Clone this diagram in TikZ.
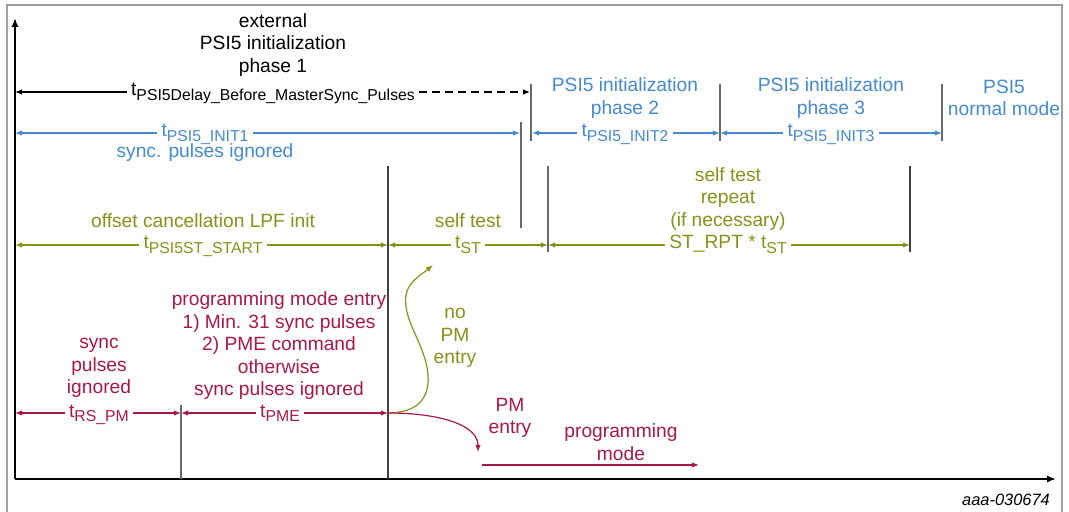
\documentclass[tikz,border=0pt]{standalone}
\usepackage{fontspec}
\setmainfont{Liberation Sans}
\usetikzlibrary{arrows.meta,positioning}
\definecolor{psiblue}{RGB}{68,138,208}
\definecolor{stolive}{RGB}{134,146,26}
\definecolor{pmred}{RGB}{168,24,72}
\definecolor{tickgray}{RGB}{105,105,105}
\newcommand{\tsub}[1]{t\raisebox{-2.3pt}{\fontsize{7.9}{7.9}\selectfont #1}}

\begin{document}
\begin{tikzpicture}[x=0.5pt,y=-0.5pt,>={Latex[length=3.6pt,width=2.8pt]},
  every node/.style={font=\fontsize{9.6}{11.25}\selectfont,align=center,inner sep=2pt},
  lbl/.style={anchor=base},
  dim/.style={line width=0.6pt},
  tickline/.style={line width=0.7pt,draw=tickgray},
  axis/.style={line width=0.9pt,-{Latex[length=4.5pt,width=3.6pt]}}]
\useasboundingbox (0,0) rectangle (1069,512);
% frame and axes
\draw[gray!75,line width=0.6pt] (7,512) -- (7,5) -- (1062,5) -- (1062,512);
\coordinate (o) at (15,479);
\coordinate (ytop) at (15,18);
\coordinate (xend) at (1056,479);
\draw[axis] (o) -- (ytop);
\draw[axis] (o) -- (xend);
% phase headings
\node (ph1) at (273,45) {external\\PSI5 initialization\\phase 1};
\node[text=psiblue] (ph2) at (625,98) {PSI5 initialization\\phase 2};
\node[text=psiblue] (ph3) at (831,98) {PSI5 initialization\\phase 3};
\node[text=psiblue] (norm) at (1004,98) {PSI5\\normal mode};
% delay before master sync pulses
\coordinate (dl) at (15,92);
\coordinate (dr) at (530,92);
\node[lbl] (tdel) at (273,96) {\tsub{PSI5Delay\_Before\_MasterSync\_Pulses}};
\draw[dim,<-] (dl) -- (dl -| tdel.west);
\draw[dim,->,dash pattern=on 4pt off 2.5pt] (dl -| tdel.east) -- (dr);
% PSI5 init phases
\coordinate (i1l) at (15,133);
\coordinate (i1r) at (520,133);
\coordinate (i2l) at (532,133);
\coordinate (i2r) at (720,133);
\coordinate (i3l) at (720,133);
\coordinate (i3r) at (942,133);
\node[lbl,text=psiblue] (ti1) at (205,137) {\tsub{PSI5\_INIT1}};
\node[lbl,text=psiblue] (ti2) at (625,137) {\tsub{PSI5\_INIT2}};
\node[lbl,text=psiblue] (ti3) at (831,137) {\tsub{PSI5\_INIT3}};
\node[text=psiblue] (ign1) at (205,153) {sync. pulses ignored};
\draw[dim,psiblue,<-] (i1l) -- (i1l -| ti1.west);
\draw[dim,psiblue,->] (i1l -| ti1.east) -- (i1r);
\draw[dim,psiblue,<-] (i2l) -- (i2l -| ti2.west);
\draw[dim,psiblue,->] (i2l -| ti2.east) -- (i2r);
\draw[dim,psiblue,<-] (i3l) -- (i3l -| ti3.west);
\draw[dim,psiblue,->] (i3l -| ti3.east) -- (i3r);
\draw[tickline] (531,84) -- (531,141);
\draw[tickline] (720,84) -- (720,141);
\draw[tickline] (942,84) -- (942,141);
\draw[tickline] (521,122) -- (521,228);
% self test
\coordinate (sl) at (15,245);
\coordinate (s1) at (388,245);
\coordinate (s2) at (548,245);
\coordinate (s3) at (910,245);
\node[text=stolive] (ofs) at (203,221) {offset cancellation LPF init};
\node[text=stolive] (st) at (468,221) {self test};
\node[text=stolive] (rpt) at (728,199) {self test\\repeat\\(if necessary)};
\node[lbl,text=stolive] (tstart) at (203,249) {\tsub{PSI5ST\_START}};
\node[lbl,text=stolive] (tst) at (468,249) {\tsub{ST}};
\node[lbl,text=stolive] (trpt) at (728,249) {ST\_RPT * \tsub{ST}};
\draw[dim,stolive,<-] (sl) -- (sl -| tstart.west);
\draw[dim,stolive,->] (sl -| tstart.east) -- (s1);
\draw[dim,stolive,<-] (s1) -- (s1 -| tst.west);
\draw[dim,stolive,->] (s1 -| tst.east) -- (s2);
\draw[dim,stolive,<-] (s2) -- (s2 -| trpt.west);
\draw[dim,stolive,->] (s2 -| trpt.east) -- (s3);
\draw[tickline,draw=black!75] (388,166) -- (388,479);
\draw[tickline] (548,166) -- (548,252);
\draw[tickline,draw=black!75] (910,166) -- (910,252);
% programming mode
\coordinate (ml) at (15,413);
\coordinate (m1) at (181,413);
\coordinate (m2) at (388,413);
\node[text=pmred] (ign2) at (99,368) {sync\\pulses\\ignored};
\node[text=pmred] (pme) at (279,346) {programming mode entry\\1) Min. 31 sync pulses\\2) PME command\\otherwise\\sync pulses ignored};
\node[lbl,text=pmred] (trs) at (99,417) {\tsub{RS\_PM}};
\node[lbl,text=pmred] (tpme) at (280,417) {\tsub{PME}};
\draw[dim,pmred,<-] (ml) -- (ml -| trs.west);
\draw[dim,pmred,->] (ml -| trs.east) -- (m1);
\draw[dim,pmred,<-] (m1) -- (m1 -| tpme.west);
\draw[dim,pmred,->] (m1 -| tpme.east) -- (m2);
\draw[tickline] (181,405) -- (181,479);
% branches
\coordinate (nopm) at (433,265);
\coordinate (pmin) at (478,452);
\node[text=stolive] (nopmt) at (455,338) {no\\PM\\entry};
\node[text=pmred] (pmt) at (510,418) {PM\\entry};
\node[text=pmred] (prog) at (621,442) {programming\\mode};
\coordinate (pl) at (482,465);
\coordinate (pr) at (699,465);
\draw[dim,stolive,->] (m2) .. controls (415,413) and (430,400) .. (428,375)
  .. controls (426,345) and (402,320) .. (406,295)
  .. controls (408,282) and (421,275) .. (nopm);
\draw[dim,pmred,->] (m2) .. controls (440,413) and (478,425) .. (pmin);
\draw[dim,pmred,->] (pl) -- (pr);
% figure id
\node[font=\fontsize{8.2}{9}\selectfont\itshape] (fid) at (1006,500) {aaa-030674};
\end{tikzpicture}
\end{document}
